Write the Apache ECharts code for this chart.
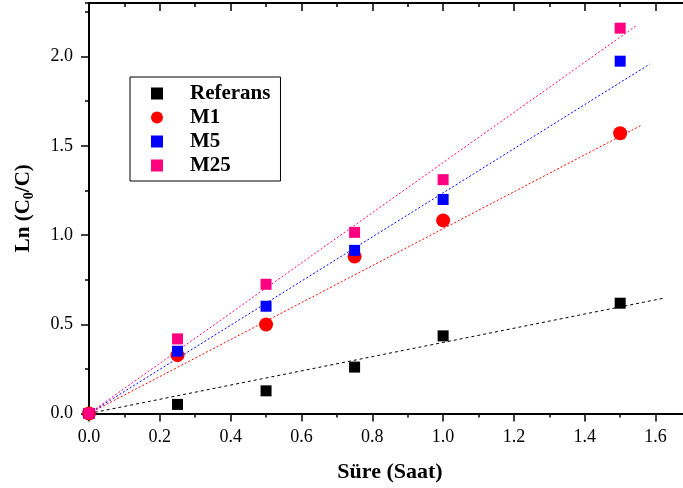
<!DOCTYPE html>
<html>
<head>
<meta charset="utf-8">
<script src="https://cdn.jsdelivr.net/npm/echarts@6/dist/echarts.min.js"></script>
<style>
  html, body { margin: 0; padding: 0; background: #fff; }
</style>
</head>
<body>
<div id="chart" style="width: 683px; height: 488px"></div>
<script>
const times = [0, 0.25, 0.5, 0.75, 1.0, 1.5];
const referans = [0, 0.051, 0.127, 0.26, 0.435, 0.618];
const m1 = [0, 0.327, 0.499, 0.88, 1.082, 1.57];
const m5 = [0, 0.349, 0.601, 0.914, 1.199, 1.974];
const m25 = [0, 0.418, 0.724, 1.015, 1.31, 2.159];
// end points of the dotted fit lines (they start at the origin)
const fitEndX = [1.62, 1.558, 1.583, 1.547];
const fitEndY = [0.645, 1.613, 1.957, 2.175];

const names = ["Referans", "M1", "M5", "M25"];
const values = [referans, m1, m5, m25];
const colors = ["#000000", "#ff0000", "#0000ff", "#ff0080"];
const symbols = ["rect", "circle", "rect", "rect"];
const sizes = [11, 14, 11, 11];

const serif = "Liberation Serif";

function xAxisOf(pos, interval, len, inside, labels, line) {
  return {
    type: "value", position: pos, min: 0, max: 1.7, interval: interval,
    axisLine: { show: line, onZero: false, lineStyle: { color: "#000", width: 2 } },
    axisTick: { show: true, inside: inside, length: len, lineStyle: { color: "#000", width: 1.5 } },
    axisLabel: {
      show: labels, showMaxLabel: false, margin: 15,
      fontFamily: serif, fontSize: 18, color: "#000",
      formatter: (v) => v.toFixed(1)
    },
    splitLine: { show: false }
  };
}

function yAxisOf(pos, interval, len, inside, labels, line) {
  return {
    type: "value", position: pos, min: 0, max: 2.3, interval: interval,
    axisLine: { show: line, onZero: false, lineStyle: { color: "#000", width: 2 } },
    axisTick: { show: true, inside: inside, length: len, lineStyle: { color: "#000", width: 1.5 } },
    axisLabel: {
      show: labels, showMaxLabel: false, margin: 16,
      fontFamily: serif, fontSize: 18, color: "#000",
      formatter: (v) => v.toFixed(1)
    },
    splitLine: { show: false }
  };
}

const xAxes = [
  xAxisOf("bottom", 0.2, 8, false, true, true),
  xAxisOf("bottom", 0.1, 4, false, false, false),
  xAxisOf("top", 0.2, 8, true, false, true),
  xAxisOf("top", 0.1, 4, true, false, false)
];
xAxes[0].name = "Süre (Saat)";
xAxes[0].nameLocation = "middle";
xAxes[0].nameGap = 48;
xAxes[0].nameTextStyle = { fontFamily: serif, fontSize: 22, fontWeight: "bold", color: "#000" };

const yAxes = [
  yAxisOf("left", 0.5, 8, false, true, true),
  yAxisOf("left", 0.25, 4, false, false, false),
  yAxisOf("right", 0.5, 8, true, false, true),
  yAxisOf("right", 0.25, 4, true, false, false)
];
yAxes[0].name = "{a|Ln (C}{s|0}{a|/C)}";
yAxes[0].nameLocation = "middle";
yAxes[0].nameGap = 53;
yAxes[0].nameTextStyle = {
  rich: {
    a: { fontFamily: serif, fontSize: 21, fontWeight: "bold", color: "#000" },
    s: { fontFamily: serif, fontSize: 14, fontWeight: "bold", color: "#000", padding: [10, 0, 0, 0] }
  }
};

const series = [];
names.forEach((n, i) => {
  series.push({
    name: n + " fit",
    type: "line",
    data: [[0, 0], [fitEndX[i], fitEndY[i]]],
    showSymbol: false,
    silent: true,
    lineStyle: { color: colors[i], width: 1, type: i === 0 ? [3, 3] : [2, 2] },
    z: 1
  });
});
names.forEach((n, i) => {
  series.push({
    name: n,
    type: "scatter",
    symbol: symbols[i],
    symbolSize: sizes[i],
    itemStyle: { color: colors[i], opacity: 1 },
    data: times.map((t, k) => [t, values[i][k]]),
    z: 3 + i
  });
});

const chart = echarts.init(document.getElementById("chart"));
chart.setOption({
  animation: false,
  textStyle: { fontFamily: serif },
  grid: { left: 89, top: 3, width: 602, bottom: 74.5, containLabel: false, outerBoundsMode: "none" },
  legend: {
    data: names.map((n, i) => ({ name: n, icon: symbols[i] })),
    orient: "vertical",
    left: 130,
    top: 77,
    padding: [6, 10, 5, 21],
    itemWidth: 12,
    itemHeight: 12,
    itemGap: 3,
    borderColor: "#000",
    borderWidth: 1,
    borderRadius: 0,
    textStyle: { fontFamily: serif, fontSize: 21, fontWeight: "bold", color: "#000", lineHeight: 20, padding: [0, 0, 0, 22] }
  },
  xAxis: xAxes,
  yAxis: yAxes,
  series: series
});
window.onresize = () => {
  chart.resize();
};
</script>
</body>
</html>
